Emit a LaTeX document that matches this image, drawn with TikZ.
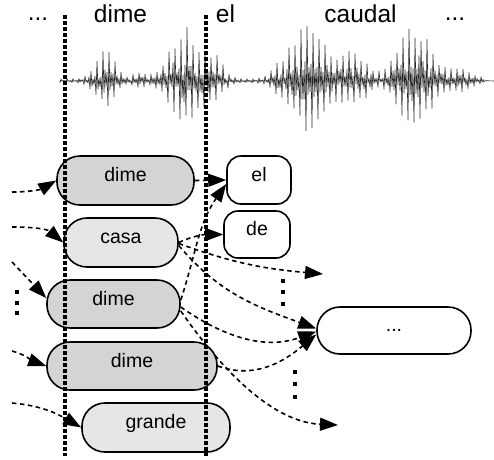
\documentclass[tikz,border=0pt]{standalone}
\usepackage{fontspec}
\setmainfont{Liberation Sans}
\usetikzlibrary{arrows.meta}
\definecolor{dgray}{RGB}{212,212,212}
\definecolor{lgray}{RGB}{230,230,230}
\pgfdeclarelayer{bg}
\pgfdeclarelayer{fg}
\pgfsetlayers{bg,main,fg}
\newcommand{\nodefont}{\fontsize{19.5}{23}\selectfont}
\newcommand{\topfont}{\fontsize{24.5}{29}\selectfont}
\tikzset{
  pill/.style={draw, line width=1.6pt, rounded corners=23pt, inner sep=0pt,
    text height=14pt, text depth=12pt, font=\nodefont},
  darkpill/.style={pill, fill=dgray},
  lightpill/.style={pill, fill=lgray},
  wordbox/.style={draw, line width=1.6pt, rounded corners=14pt, fill=white, inner sep=0pt,
    text height=14pt, text depth=12pt, font=\nodefont},
  toplabel/.style={anchor=base, inner sep=0pt, font=\topfont},
  conn/.style={line width=1.6pt, dash pattern=on 4.5pt off 3.5pt,
    -{Triangle[length=18pt,width=13pt]}},
  boundary/.style={line width=4.5pt, dash pattern=on 3.5pt off 2.5pt},
  wave/.style={line width=0.6pt, black!85, line join=round},
  declare function={
    G(\x,\c,\s)=exp(-min(((\x-\c)/\s)^2,9));
    env(\x)=2+24*G(\x,105,14)+7*G(\x,140,8)+44*G(\x,185,20)+16*G(\x,215,12)+6*G(\x,275,5)+50*G(\x,308,24)+22*G(\x,355,18)+46*G(\x,415,22)+9*G(\x,462,14);
  }
}
\begin{document}
\begin{tikzpicture}[x=1pt,y=1pt]
\useasboundingbox (0,0) rectangle (494,-459);
\pgfmathsetseed{11}

% top words
\node[toplabel] (t0) at (38,-20) {...};
\node[toplabel] (t1) at (120.5,-22) {dime};
\node[toplabel] (t2) at (225.5,-22) {el};
\node[toplabel] (t3) at (360.5,-22) {caudal};
\node[toplabel] (t4) at (455,-20) {...};

% nodes
\node[darkpill,  minimum width=137pt, minimum height=49pt] (d1) at (125.5,-180.5) {dime};
\node[lightpill, minimum width=114pt, minimum height=49pt] (ca) at (121,-242.5) {casa};
\node[darkpill,  minimum width=133pt, minimum height=48pt] (d2) at (113.5,-304) {dime};
\node[darkpill,  minimum width=170pt, minimum height=48pt] (d3) at (132,-366) {dime};
\node[lightpill, minimum width=148pt, minimum height=49pt] (gr) at (156,-427.5) {grande};
\node[wordbox,   minimum width=64pt,  minimum height=48pt] (el) at (259,-180) {el};
\node[wordbox,   minimum width=66pt,  minimum height=47pt] (de) at (257,-234.5) {de};
\node[pill, fill=white, minimum width=154pt, minimum height=47pt] (dots) at (394,-330.5) {...};

% free ends
\coordinate (s1) at (12,-192);
\coordinate (s2) at (12,-227);
\coordinate (s3) at (12,-262);
\coordinate (s4) at (12,-351);
\coordinate (s5) at (12,-403);
\coordinate (e1) at (323,-274);
\coordinate (e2) at (338,-425);

\begin{pgfonlayer}{bg}
  % waveform
  \draw[wave] (60,-81) \foreach \i in {0,...,425} {
      -- ({60+\i}, {-81 + (2*mod(\i,2)-1)*(1+0.25*mod(\i,2))*env(60+\i)*ifthenelse(mod(\i,6)<2, 0.7+0.3*rnd, 0.1+0.35*rnd)}) } -- (494,-81);
  % connectors
  \draw[conn] (s1) to[out=0,in=210] (d1.west);
  \draw[conn] (s2) to[out=0,in=140] (ca.west);
  \draw[conn] (s3) -- ([yshift=6pt]d2.west);
  \draw[conn] (s4) to[out=-15,in=160] (d3.west);
  \draw[conn] (s5) to[out=-5,in=150] (gr.west);
  \draw[conn] (d1.east) -- (el.west);
  \draw[conn] ([yshift=4pt]d2.east) to[out=72,in=235] ([yshift=-4pt]el.west);
  \draw[conn] (ca.east) to[out=25,in=180] (de.west);
  \draw[conn] ([yshift=-1pt]ca.east) to[out=-20,in=175] (e1);
  \draw[conn] ([yshift=-3pt]ca.east) to[out=-50,in=160] ([yshift=2pt]dots.west);
  \draw[conn] ([yshift=-3pt]d2.east) to[out=-35,in=200] ([yshift=-1pt]dots.west);
  \draw[conn] ([yshift=-7pt]d2.east) .. controls +(34,-49) and +(-70,3) .. (e2);
  \draw[conn] (d3.east) to[out=-20,in=220] ([yshift=-4pt]dots.west);
\end{pgfonlayer}

\begin{pgfonlayer}{fg}
  \draw[boundary] (65,-15) -- (65,-456);
  \draw[boundary] (206,-15) -- (206,-456);
  % vertical ellipsis marks
  \foreach \x/\y in {17/292,17/302.5,17/313,283/281,283/292,283/304,295/372,295/384,295/397}
    \fill (\x-2,-\y+2) rectangle (\x+2,-\y-2);
\end{pgfonlayer}
\end{tikzpicture}
\end{document}
